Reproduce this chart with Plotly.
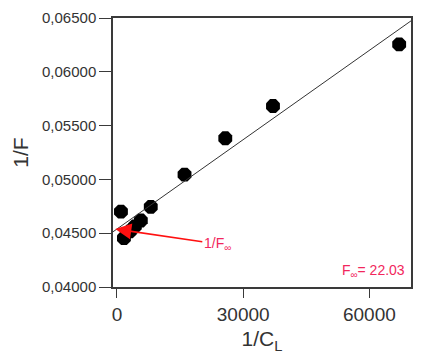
import plotly.graph_objects as go

# Data
inv_c = [945, 1654, 3071, 4252, 5669, 8031, 16063, 25748, 37087, 67087]
inv_f = [0.0470, 0.04455, 0.04518, 0.04564, 0.04618, 0.04745, 0.05045, 0.05382, 0.05682, 0.06255]

# Linear fit parameters (F_inf = 22.03 -> intercept = 1/22.03)
f_inf = 22.03
intercept = 1.0 / f_inf
slope = 2.767e-7

x_range = [-945, 69900]
y_range = [0.040, 0.065]
x_ticks = [0, 30000, 60000]
y_ticks = [0.040, 0.045, 0.050, 0.055, 0.060, 0.065]

fit_x = x_range
fit_y = [intercept + slope * v for v in fit_x]

FONT = "Arial, Liberation Sans, sans-serif"
RED_TXT = "#f2275c"
RED = "#ff1010"
AXIS = "#3a3a3a"

fig = go.Figure()
fig.add_trace(go.Scatter(
    x=inv_c, y=inv_f, mode="markers",
    marker=dict(symbol="octagon", size=15, color="black", line=dict(width=0)),
    showlegend=False, hoverinfo="skip",
))
fig.add_trace(go.Scatter(
    x=fit_x, y=fit_y, mode="lines",
    line=dict(color="#333333", width=1),
    showlegend=False, hoverinfo="skip",
))

fig.add_annotation(
    x=-400, y=intercept, xref="x", yref="y",
    text="1/F<sub>∞</sub>", showarrow=True,
    ax=102, ay=15, axref="pixel", ayref="pixel",
    arrowhead=2, arrowsize=2.0, arrowwidth=1.6, arrowcolor=RED,
    font=dict(family=FONT, size=14, color=RED_TXT),
    xanchor="center", yanchor="middle",
)
fig.add_annotation(
    x=0.985, y=0.02, xref="paper", yref="paper",
    text="F<sub>∞</sub>= 22.03", showarrow=False,
    xanchor="right", yanchor="bottom",
    font=dict(family=FONT, size=14, color=RED_TXT),
)

fig.update_layout(
    width=422, height=357,
    margin=dict(l=113, r=9, t=12, b=70),
    paper_bgcolor="white", plot_bgcolor="white",
    separators=",.",
    font=dict(family=FONT, color="#333333"),
    xaxis=dict(
        range=x_range, tickvals=x_ticks, tickformat="d",
        showgrid=False, zeroline=False,
        showline=True, linecolor=AXIS, linewidth=1.5, mirror=True,
        ticks="outside", ticklen=9, tickwidth=1.2, tickcolor=AXIS,
        tickfont=dict(family=FONT, size=19, color="#333333"),
        title=dict(text="1/C<sub>L</sub>", font=dict(family=FONT, size=21, color="#333333"), standoff=8),
    ),
    yaxis=dict(
        range=y_range, tickvals=y_ticks, tickformat=".5f",
        showgrid=False, zeroline=False,
        showline=True, linecolor=AXIS, linewidth=1.5, mirror=True,
        ticks="outside", ticklen=12, tickwidth=1.2, tickcolor=AXIS,
        tickfont=dict(family=FONT, size=15, color="#333333"),
        title=dict(text="1/F", font=dict(family=FONT, size=21, color="#333333"), standoff=8),
    ),
)

fig.write_html(
    "out.html",
    config={"displayModeBar": False},
    post_script="document.body.style.margin='0';document.body.style.overflow='hidden';",
)
